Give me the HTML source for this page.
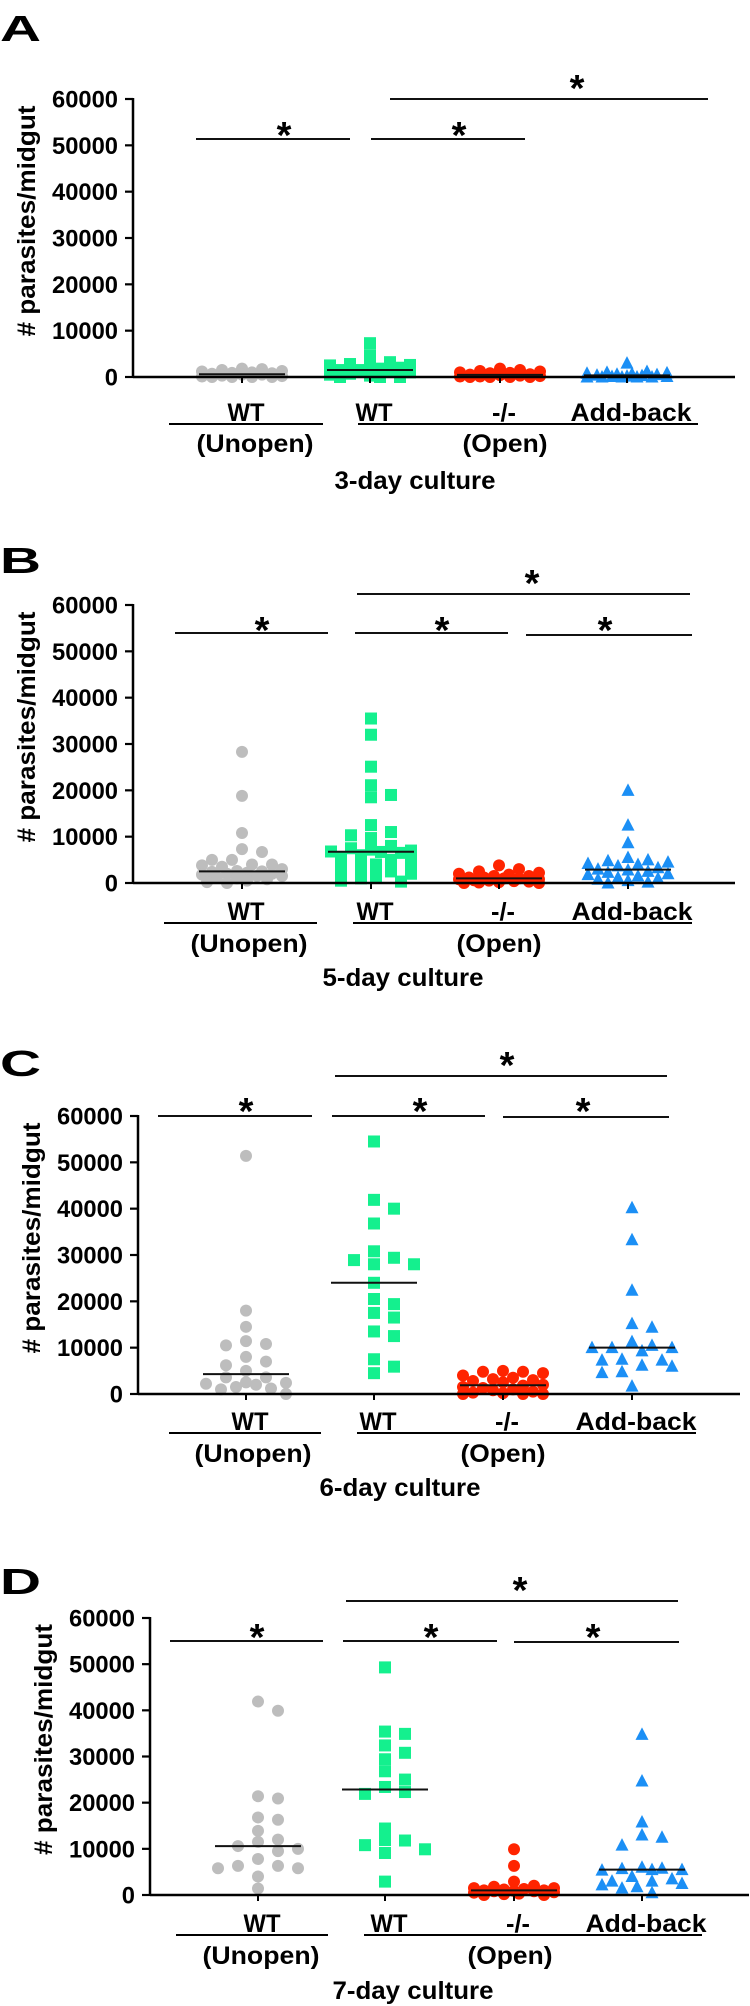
<!DOCTYPE html>
<html><head><meta charset="utf-8">
<style>
html,body{margin:0;padding:0;background:#fff;}
svg{display:block;}
text{font-family:"Liberation Sans",Arial,sans-serif;font-weight:bold;fill:#000;}
</style></head>
<body>
<svg id="fig" width="750" height="2006" viewBox="0 0 750 2006" xmlns="http://www.w3.org/2000/svg"></svg>
<script>
// ---------- data ----------
const categories = ["WT", "WT", "-/-", "Add-back"];
const yTicks = [0, 10000, 20000, 30000, 40000, 50000, 60000];
const yTickLabels = ["0", "10000", "20000", "30000", "40000", "50000", "60000"];
const panelLetters = ["A", "B", "C", "D"];
const cultureLabels = ["3-day culture", "5-day culture", "6-day culture", "7-day culture"];

// Panel A: 3-day
const day3WtUnopen = [1800,1700,1500,1300,1200,1000,900,800,700,500,500,300,200,100,0,0,0,0];
const day3WtOpen = [7300,4700,3200,2800,2600,2500,2200,2000,1800,1500,1500,1200,1000,700,500,300,0,0,0];
const day3KO = [1800,1500,1300,1200,1000,900,800,600,500,400,300,200,100,100,0,0,0,0];
const day3AddBack = [3000,1200,1000,900,800,700,600,500,400,300,200,100,100,0,0,0,0,0];

// Panel B: 5-day
const day5WtUnopen = [28300,18800,10800,7300,6700,5000,5000,4000,4000,3800,3500,3000,2600,2500,2400,2200,2000,2000,1800,1500,1500,1200,1000,800,500,200,0];
const day5WtOpen = [35500,32000,25100,21100,19000,18500,12500,11000,10300,9700,8000,7500,7200,7000,6800,6700,6500,6000,5500,5000,4500,4000,3500,3000,2500,2000,1500,1000,500,300];
const day5KO = [3800,3000,2500,2200,2000,1800,1500,1500,1200,1200,1000,1000,800,800,600,500,400,300,200,100,0,0];
const day5AddBack = [20000,12500,8700,5500,5000,4800,4500,4200,4000,3700,3300,3000,2800,2500,2300,2000,1800,1500,1200,1000,800,500,200,0];

// Panel C: 6-day
const day6WtUnopen = [51400,18000,14500,11400,10800,10500,8000,7000,6200,5000,3600,3600,2500,2400,2200,2000,1500,1200,1000,0];
const day6WtOpen = [54500,41900,40000,36800,30800,29400,28900,28000,28000,24000,20500,19400,17500,16500,13500,12500,7500,5900,4500];
const day6KO = [5000,4800,4800,4500,4000,3500,3200,3000,2800,2500,2000,1800,1500,1300,1000,800,500,300,200,0,0,0];
const day6AddBack = [40200,33300,22400,15200,14400,11300,10500,10000,10000,10000,9300,7500,7300,7300,6200,6000,4800,4600,1700];

// Panel D: 7-day
const day7WtUnopen = [41900,39900,21400,20900,16800,16300,13900,12000,11500,10600,10000,9500,7800,6300,6300,5800,5800,4000,1400];
const day7WtOpen = [49300,35400,34900,32400,30800,29400,26800,25000,23400,22300,21900,14400,11900,11800,10800,9900,9100,2900];
const day7KO = [9900,6300,2900,2000,1800,1500,1500,1300,1200,1000,1000,900,800,800,600,500,300,200,0,0];
const day7AddBack = [34800,24700,15800,13000,12500,10800,6000,5800,5700,5500,5400,5500,4000,3500,3000,3000,2500,2200,1800,1500,500];

const panelSeries = [
  [day3WtUnopen, day3WtOpen, day3KO, day3AddBack],
  [day5WtUnopen, day5WtOpen, day5KO, day5AddBack],
  [day6WtUnopen, day6WtOpen, day6KO, day6AddBack],
  [day7WtUnopen, day7WtOpen, day7KO, day7AddBack]
];

// ---------- layout (pixel geometry, not data) ----------
const layout = [
  {ax:133, y60:99,   y0:377,  xEnd:735, cx:[242,370,500,627], letterTop:15,
   br:[[196,350,139,284,127],[371,525,139,459,127],[390,708,99,577,80]],
   lab:412, ul:424, ulA:[169,323], ulB:[358,698], row2:443, unX:255, opX:505, cul:480, culX:415},
  {ax:133, y60:605,  y0:883,  xEnd:735, cx:[242,371,499,628], letterTop:547,
   br:[[175,328,633,262,622],[355,508,633,442,622],[526,692,635,605,622],[357,690,594,532,575]],
   lab:911, ul:923, ulA:[164,317], ulB:[353,692], row2:943, unX:249, opX:499, cul:977, culX:403},
  {ax:138, y60:1116, y0:1394, xEnd:740, cx:[246,374,503,632], letterTop:1050,
   br:[[158,312,1116,246,1103],[332,485,1116,420,1103],[503,669,1117,583,1103],[335,667,1076,507,1057]],
   lab:1421, ul:1433, ulA:[169,321], ulB:[357,696], row2:1453, unX:253, opX:503, cul:1487, culX:400},
  {ax:150, y60:1618, y0:1895, xEnd:749, cx:[258,385,514,642], letterTop:1568,
   br:[[170,323,1641,257,1629],[343,497,1641,431,1629],[514,679,1642,593,1629],[346,678,1601,520,1582]],
   lab:1923, ul:1935, ulA:[176,328], ulB:[364,702], row2:1955, unX:261, opX:510, cul:1990, culX:413}
];
const colors = ["#bdbdbd", "#14f08e", "#ff2400", "#1b8ff5"];
const shapes = ["circle", "square", "circle", "triangle"];
const groupNames = ["wt-unopen", "wt-open", "knockout", "add-back"];

const NS = "http://www.w3.org/2000/svg";
const svg = document.getElementById("fig");
function mk(tag, attrs, parent) {
  const e = document.createElementNS(NS, tag);
  for (const k in attrs) e.setAttribute(k, attrs[k]);
  (parent || svg).appendChild(e);
  return e;
}
function median(arr) {
  const s = arr.slice().sort((a, b) => a - b);
  const n = s.length;
  return n % 2 ? s[(n - 1) / 2] : (s[n / 2 - 1] + s[n / 2]) / 2;
}
// candidate offsets within +/-40 px
const candOffsets = [0];
for (let k = 1; k <= 4; k++) { candOffsets.push(k * 10, -k * 10); }
for (let k = 0; k < 4; k++) { candOffsets.push(5 + k * 10, -5 - k * 10); }

layout.forEach((L, p) => {
  const g = mk("g", {});
  
  
  const yScale = v => L.y0 - (v / 60000) * (L.y0 - L.y60);

  const let_ = mk("text", {x:0, y:L.letterTop + 26, "font-size":36, textLength:41, lengthAdjust:"spacingAndGlyphs"}, g);
  let_.textContent = panelLetters[p];
  
  

  const yAxis = mk("line", {x1:L.ax, y1:L.y60 - 1, x2:L.ax, y2:L.y0 + 1, stroke:"#000", "stroke-width":2.5}, g);
  
  
  yTicks.forEach((t, i) => {
    const y = yScale(t);
    const tk = mk("line", {x1:L.ax - 8, y1:y, x2:L.ax, y2:y, stroke:"#000", "stroke-width":2.2}, g);
    
    
    const lbl = yTickLabels[i];
    const tl = mk("text", {x:L.ax - 15, y:y + 8.5, "font-size":24, "text-anchor":"end",
      textLength:13.2 * lbl.length, lengthAdjust:"spacingAndGlyphs"}, g);
    tl.textContent = lbl;
    
    
  });
  const ty = (L.y60 + L.y0) / 2 - 17, tx = L.ax - 98;
  const yt = mk("text", {x:tx, y:ty, "font-size":25, "text-anchor":"middle",
    transform:"rotate(-90 " + tx + " " + ty + ")", textLength:231, lengthAdjust:"spacingAndGlyphs"}, g);
  yt.textContent = "# parasites/midgut";
  
  

  const series = panelSeries[p];
  series.forEach((vals, gi) => {
    const cx = L.cx[gi];
    const sg = mk("g", {fill:colors[gi]}, g);
    
    
    const placed = [];
    const size = 11;
    vals.forEach(v => {
      const y = yScale(v);
      let best = 0, bestScore = Infinity;
      for (let ci = 0; ci < candOffsets.length; ci++) {
        const c = candOffsets[ci];
        let score = 0;
        placed.forEach(q => {
          const dx = Math.abs(q[0] - c), dy = Math.abs(q[1] - y);
          if (dx < size && dy < size) score += (size - dx) * (size - dy);
        });
        score += ci * 0.01;
        if (score < bestScore) { bestScore = score; best = c; }
        if (score < 0.5) break;
      }
      placed.push([best, y]);
      const x = cx + best;
      let m;
      if (shapes[gi] === "circle") m = mk("circle", {cx:x, cy:y, r:6}, sg);
      else if (shapes[gi] === "square") m = mk("rect", {x:x - 6, y:y - 6, width:12, height:12}, sg);
      else m = mk("polygon", {points:(x) + "," + (y - 7) + " " + (x - 6.5) + "," + (y + 5.5) + " " + (x + 6.5) + "," + (y + 5.5)}, sg);
      
      
    });
    const my = yScale(median(vals));
    const ml = mk("line", {x1:cx - 43, y1:my, x2:cx + 43, y2:my, stroke:"#111", "stroke-width":2}, g);
    
    
  });

  const xAxis = mk("line", {x1:L.ax, y1:L.y0, x2:L.xEnd, y2:L.y0, stroke:"#000", "stroke-width":2.5}, g);
  
  
  L.cx.forEach(cx => {
    const t = mk("line", {x1:cx, y1:L.y0, x2:cx, y2:L.y0 + 6, stroke:"#000", "stroke-width":2}, g);
    
    
  });

  const widths = [37, 37, 24, 121];
  categories.forEach((c, i) => {
    const t = mk("text", {x:L.cx[i] + 4, y:L.lab + 9, "font-size":25, "text-anchor":"middle",
      textLength:widths[i], lengthAdjust:"spacingAndGlyphs"}, g);
    t.textContent = c;
    
    
  });
  [L.ulA, L.ulB].forEach(u => {
    const l = mk("line", {x1:u[0], y1:L.ul, x2:u[1], y2:L.ul, stroke:"#000", "stroke-width":2}, g);
    
    
  });
  const un = mk("text", {x:L.unX, y:L.row2 + 9, "font-size":25, "text-anchor":"middle", textLength:117, lengthAdjust:"spacingAndGlyphs"}, g);
  un.textContent = "(Unopen)";
  
  
  const op = mk("text", {x:L.opX, y:L.row2 + 9, "font-size":25, "text-anchor":"middle", textLength:85, lengthAdjust:"spacingAndGlyphs"}, g);
  op.textContent = "(Open)";
  
  
  const cu = mk("text", {x:L.culX, y:L.cul + 9, "font-size":25, "text-anchor":"middle", textLength:161, lengthAdjust:"spacingAndGlyphs"}, g);
  cu.textContent = cultureLabels[p];
  
  

  L.br.forEach(b => {
    const l = mk("line", {x1:b[0], y1:b[2], x2:b[1], y2:b[2], stroke:"#111", "stroke-width":2}, g);
    
    
    const s = mk("text", {x:b[3], y:b[4] + 21, "font-size":38, "text-anchor":"middle"}, g);
    s.textContent = "*";
    
    
  });
});
</script>
</body></html>
